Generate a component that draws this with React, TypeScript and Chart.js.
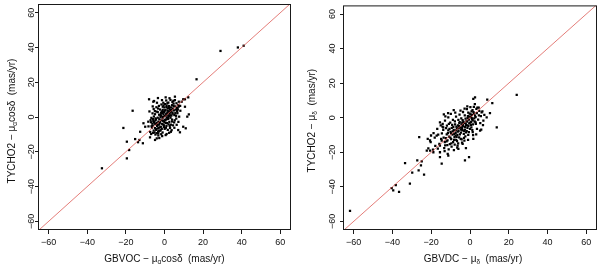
import React, { useEffect, useRef } from "react";
import { Chart, registerables } from "chart.js";

Chart.register(...registerables);

// ---------- data ----------
const axisMin = -65;
const axisMax = 65;
const tickValues = [-60, -40, -20, 0, 20, 40, 60];
const identityX = [-65, 65];
const identityY = [-65, 65];

// Left panel: GBVOC - mu_alpha cos delta (x) vs TYCHO2 - mu_alpha cos delta (y)
const leftX = [
  41, 38, 29, 16.6, -32.4, -16.5, -21.3, -19.5, -19.5, -18.3, -15.2, -13, -13.7, -10.9, -12.6, -8, -5.8, -0.6,
  -3.2, -7.5, -4, 1.1, 7.1, 9.7, 11.8, 10.6, 5.4, 8.9, 10.6, 12.3, 7.3, 6.6, -10, -8.4, -11.2, 12.6, 11, 9.7,
  -6.5, -6.1, -5.6, -5.3, -4.9, -4.8, -4.4, -4.3, -4.1, -3.8, -3.5, -3.4, -3.2, -2.9, -2.8, -2.5, -2.4, -2.1, -1.9, -1.8,
  -1.6, -1.4, -1.3, -1, -0.9, -0.8, -0.5, -0.3, -0.2, 0.1, 0.2, 0.5, 0.6, 0.9, 1.1, 1.2, 1.5, 1.6, 1.9, 2.1, 2.3, 2.4,
  2.7, 2.9, 3.1, 3.3, 3.5, 3.6, 3.9, 4.1, 4.3, 4.7, 4.9, 5.1, 5.6, 5.9, 6.2, 6.5, 7.1, 7.4, 8.1,
  -7, -6.8, -6.2, -5.5, -5, -4.2, -3.5, -2.9, -2.3, -1.6, -0.9, 0.3, 1.1, 2, -7.4, -6.9, -5.9, -4.7, -3.3, -2,
  -1, 0.1, 1, 2.1, 2.9, 3.9, 4.4, 5.3, 6, 6.7, 7.2, 8.2, 5.1, 3.3, 1.7, -0.3, 4.6, 3.1, 0.9, -1.3, -3.9, -4.6,
  -5.8, -3.2, 2.4, 6.3, -2.7, -4.9, 0.6, 8, -5.4,
  -6.3, -5.9, -5.1, -4.9, -4.4, -4.1, -3.7, -3.3, -2.9, -2.7, -2.2, -1.8, -1.4, -1.2, -0.7, -0.5, -0.1, 0.3, 0.7,
  0.9, 1.3, 1.5, 1.9, 2.3, 2.7, 3.1, 3.5, 3.9, 4.2, 4.7, 5, 5.6, 6.1, 6.9, -6.7, -5.4, -4.6, -3.9, -2.5, -1.7,
  -0.8, 0.5, 1.7, 2.5, 3.3, 4.1, 5.4, -3, -2, -1, 0, 1, 2, 3, -5.6, -6.1, -7.2, -8.3, -7.8, 6.4, 7.6, 3.7, -1.2,
  0.6, 2.6, -3.4,
];
const leftY = [
  41, 40, 38, 21.7, -29.5, 3.6, -6.3, -14.2, -23.8, -19, -12.7, -13.2, -14.5, -3.6, -8.5, 10.2, 8.8, 8.2,
  -9.4, -11.7, -12.3, -9.8, -7.5, -5.6, 0.2, 5.9, 11.7, 8.8, 10.2, 11.3, 5.9, 3.6, -5.6, -2.7, -15.1, 1.5, -6.5, 10.2,
  -6.1, -4.9, -7.8, -2.6, -6.4, -4.1, -1.2, -7.4, -3.5, -5.1, -0.4, -6.6, -2.7, -4.4, 1.3, -7.9, -2.9, -0.1, -5.6, 2.4,
  -1.9, 3.2, -3.9, -0.7, 4.1, -2.2, 1.6, -4.8, 2.8, 0.5, -1.6, 3.9, -3.4, 1.2, 5.7, -0.2, 2.4, 4.9, -1.1, 3.1, 0.6, 6.3,
  1.9, 4.2, -0.4, 5.5, 3.3, 0.9, 6.8, 2.5, 4.9, 7.7, 3.8, 1.1, 6.1, 4.3, 7.9, 5.2, 6.9, 8.8, 6.4,
  -3, -0.5, 2.1, 0.3, 3.4, 5.6, 2.8, 6.4, 4.3, 7.2, 5.9, 7.4, 6.6, 8.3, -8.6, -9.8, -9.1, -10.1, -8.4, -7.6,
  -8.9, -6.8, -5.1, -4.2, -6.3, -2.6, -4.8, -1.9, 0.7, 2.2, -2.8, 3.6, -6.2, -8.5, -7.4, -5.7, 9.3, 9.8, 9.5, 9.7, 8.2, -0.8,
  -2.3, -10.6, -9.1, -4.5, -12.1, -13.2, -10.4, -8.8, 9.2,
  -3.8, -1.2, -8.9, 1.6, -6.9, 3.1, -4.6, 4.9, -8.1, -1.3, -5.9, 0.7, -6.8, 2.2, -4.3, 6.7, -2.9, 3.8, -6.2,
  1.9, -3.5, 7.9, -0.6, 5.2, -5.1, 0.8, 4.1, -1.5, 1.9, 6.3, -3.1, 2.2, -0.9, 4.4, -5.3, -3.2, -1.9, -9.3, -3.6, -9.9,
  0.1, -1.8, 3.6, -2.8, -4.4, 8.6, 9.7, -6.2, 1.2, 2.9, 5.5, -1.3, 0.9, 2.9, 4.6, 6.1, -1.8, -5.4, 3.2, 3.3, 0.2, -7.6, -11,
  11.3, 10.8, 10.9,
];

// Right panel: GBVDC - mu_delta (x) vs TYCHO2 - mu_delta (y)
const rightX = [
  -61.9, -40.4, -38.3, -36.6, -39.6, -33.5, -29.8, -31, -27.2, -26.5, -24.9, -23.7, -26.2, -25.3, -22.3, -20.6,
  -18.9, -15.5, -15.5, -14.6, -11.2, -6, -2.6, -0.5, 1.7, 5.2, 6.9, 8.6, 10.3, 13.8, 11.5, 8.9, 2.6, 24.1,
  -15.5, -14.6, -20.6, -17.2, -13.8, -15.5, -12.9, -11.2, 2.9, 6, 3.8,
  -13, -12.5, -12, -11.6, -11.2, -10.8, -10.4, -10, -9.7, -9.4, -9, -8.7, -8.4, -8, -7.7, -7.4, -7.1, -6.8, -6.5,
  -6.2, -5.9, -5.6, -5.3, -5, -4.7, -4.4, -4.1, -3.8, -3.5, -3.2, -2.9, -2.6, -2.3, -2, -1.7, -1.4, -1.1, -0.8,
  -0.5, -0.2, 0.1, 0.4, 0.7, 1, 1.4, 1.8, 2.2, 2.6, 3, 3.5,
  -14.5, -13.8, -13.3, -12.8, -11.9, -11, -10.2, -9.5, -8.8, -7.9, -7.2, -6.1, -5.4, -4.3, -3.6, -2.4, -1.6, -0.6,
  0.2, 1.2, 2, -15.8, -14.9, -16.6, -17.9, -19.1, -18.2, -16.4, -14.1, -12.7, -9.9, -4.9, -2.8, 0.8, -6.6, -3.8,
  -1, 4.2, 4.8, 5.6, 3.6, 1.6, -2.1, -20.3, -21.5, -7.6, -11.5,
  -12.3, -11.7, -10.9, -10.1, -9.6, -9.2, -8.9, -8.2, -7.8, -7.5, -7, -6.7, -6.3, -6, -5.7, -5.2, -4.8, -4.5, -4.2,
  -3.9, -3.4, -3.1, -2.7, -2.5, -2.1, -1.8, -1.3, -0.9, -0.4, 0, 0.3, 0.6, 0.9, 1.3, 1.5, 2.1, 2.4, 2.9, 3.3, 4.6,
  5.3, 6.4, -13.6, -14.2, -12.1, -11.4, -10.6, -9.8, -8.6, -8.1, -7.3, -6.9, -5.9, -5.5, -4.6, -4, -3.7, -3, -2.2,
  -1.5, -1.2, -0.3, 0.5, 1.1, -16.9, -15.1, -13.1, -8.3, -6.4, -4.1, -2.9, -0.9, 1.4, 3.2, -18.8, -20.1, -21.8,
  -13.5, -11.3, -8.4, -1.4, 1.7, 2.5, 4.5, 6.7, 5.8, 7.4,
];
const rightY = [
  -53.9, -40.7, -39, -43, -42, -26.3, -31.8, -38.2, -24.7, -30.5, -25.3, -33, -11.3, -27.6, -19, -19,
  -20, -22.8, -20, -26.6, -21.9, -18, -24.7, -22.8, -12.3, -7.5, -1.7, 0.2, 2.7, -5.6, 8.4, 10.4, 11.7, 13.2,
  -16.1, -13.2, -13.2, -10.4, -5.6, -2.7, -1.7, 0.2, -2.7, 3.1, 5.9,
  -14.2, -11.8, -9.6, -13.1, -7.4, -10.9, -15.3, -8.2, -12.4, -5.9, -9.8, -14.1, -7.1, -11.2, -3.8, -8.8, -12.9, -6.2, -9.9,
  -4.4, -7.6, -11.4, -2.6, -5.8, -8.7, -3.9, -6.6, -1.4, -5, -9.3, -3, -6.9, -0.6, -4.1, -7.8, -2.2, 0.9, -4.8,
  -1.1, 2.4, -2.9, 0.3, -5.6, 1.7, -1.6, 3.2, -0.4, 1.2, -3.6, 2.6,
  -9.1, -7, -17.6, -16, -4.6, -18.4, -2.9, -16.8, -1.2, -15.6, 0.6, -14.8, 1.8, -12.6, 3.3, -10.8, 4.9, -8.4,
  6.1, -7.2, 6.3, -15.1, -12.2, -17.9, -16.3, -18.5, -11.6, -9.8, -3.6, 0.8, 2.2, 4.1, 5.2, 3.7, -17.3, -15.2,
  -12.9, -1.1, 3.9, 0.9, -6.4, -10.1, -17.6, -14.1, -17.8, 2.9, -20.9,
  -6.1, -15.9, -3.6, -11.6, -14.8, -4.2, -7.9, -12.8, -2.1, -10.4, -5.1, -13.6, -8.1, -1.3, -4.9, -9.6, -12.2, -0.4, -5.6,
  -7.3, -2.3, -11.7, 1.3, -5.3, -8.5, -1.9, -5.9, 2.9, -3.3, -6.4, 1.9, -2.4, -0.1, 4.4, -3.8, 2.3, -2.2, 0.4, 5.1, 1.4,
  -3.2, 3.7, -11.5, -5.1, -13.7, -8.9, -6.5, -9.1, -5.3, -9.4, -7.4, -11.1, -6.2, -3.1, -6.9, -2.8, -4.3, -7.6, -3.4,
  -4.4, -0.3, 0.6, -4.1, -0.9, -6.4, -4.4, -19.4, -18.8, -16.1, -14.4, -13.3, -9.9, -8.3, -9.6, -8.9, -10.3, -12.2,
  1.9, 2.6, 4.4, 6.6, 10.9, 7.8, 5.8, -4.3, -6.9, 1.6,
];

type Part = { t: string; sub?: boolean };
const leftXTitle: Part[] = [{ t: "GBVOC \u2212 \u03bc" }, { t: "\u03b1", sub: true }, { t: "cos\u03b4  (mas/yr)" }];
const leftYTitle: Part[] = [{ t: "TYCHO2 \u2212 \u03bc" }, { t: "\u03b1", sub: true }, { t: "cos\u03b4  (mas/yr)" }];
const rightXTitle: Part[] = [{ t: "GBVDC \u2212 \u03bc" }, { t: "\u03b4", sub: true }, { t: "  (mas/yr)" }];
const rightYTitle: Part[] = [{ t: "TYCHO2 \u2212 \u03bc" }, { t: "\u03b4", sub: true }, { t: "  (mas/yr)" }];

// ---------- drawing ----------
const FONT = '"Liberation Sans", Arial, Helvetica, sans-serif';
const FS = 9;
const TITLE_FS = 10;

function fmt(v: number): string {
  return v < 0 ? "\u2212" + Math.abs(v) : String(v);
}

function drawParts(ctx: CanvasRenderingContext2D, parts: Part[], cx: number, cy: number, size: number) {
  const widths = parts.map((p) => {
    ctx.font = `${p.sub ? size * 0.65 : size}px ${FONT}`;
    return ctx.measureText(p.t).width;
  });
  const total = widths.reduce((a, b) => a + b, 0);
  let x = cx - total / 2;
  ctx.textAlign = "left";
  ctx.textBaseline = "middle";
  parts.forEach((p, i) => {
    ctx.font = `${p.sub ? size * 0.65 : size}px ${FONT}`;
    ctx.fillText(p.t, x, cy + (p.sub ? size * 0.3 : 0));
    x += widths[i];
  });
}

const frameTitles = {
  id: "frameTitles",
  afterDraw(chart: any, _args: any, opts: any) {
    const { ctx, chartArea: a } = chart;
    ctx.save();
    ctx.strokeStyle = "#1a1a1a";
    ctx.lineWidth = 1;
    ctx.strokeRect(a.left - 0.5, a.top + 0.5, a.right - a.left + 1, a.bottom - a.top - 1);
    ctx.fillStyle = "#111";
    drawParts(ctx, opts.xTitle, (a.left + a.right) / 2 + opts.xShift, opts.xTitleY, TITLE_FS);
    ctx.translate(opts.yTitleX, (a.top + a.bottom) / 2 + opts.yShift);
    ctx.rotate(-Math.PI / 2);
    drawParts(ctx, opts.yTitle, 0, 0, TITLE_FS);
    ctx.restore();
  },
};

type PanelProps = {
  xs: number[];
  ys: number[];
  xTitle: Part[];
  yTitle: Part[];
  left: number;
  yAxisWidth: number;
  padRight: number;
  yTickPad: number;
  xShift: number;
  yShift: number;
};

function Panel(props: PanelProps) {
  const ref = useRef<HTMLCanvasElement | null>(null);
  useEffect(() => {
    if (!ref.current) return;
    const pts = props.xs.map((x, i) => ({ x, y: props.ys[i] }));
    const line = identityX.map((x, i) => ({ x, y: identityY[i] }));
    const setTicks = (s: any) => {
      s.ticks = tickValues.map((v) => ({ value: v }));
    };
    const grid = {
      display: true,
      drawOnChartArea: false,
      drawTicks: true,
      tickLength: 4,
      color: "#1a1a1a",
      lineWidth: 1,
    };
    const chart = new Chart(ref.current, {
      type: "scatter",
      data: {
        datasets: [
          {
            type: "line",
            data: line,
            borderColor: "#d9453f",
            borderWidth: 0.7,
            pointRadius: 0,
            fill: false,
          } as any,
          {
            data: pts,
            pointStyle: "rect",
            pointRadius: 1.6,
            pointBackgroundColor: "#000",
            pointBorderWidth: 0,
            borderWidth: 0,
          } as any,
        ],
      },
      options: {
        animation: false,
        responsive: true,
        maintainAspectRatio: false,
        events: [],
        layout: { padding: { left: 0, right: props.padRight, top: 4, bottom: 0 } },
        plugins: {
          legend: { display: false },
          tooltip: { enabled: false },
          frameTitles: {
            xTitle: props.xTitle,
            yTitle: props.yTitle,
            xTitleY: 259,
            yTitleX: 12,
            xShift: props.xShift,
            yShift: props.yShift,
          },
        } as any,
        scales: {
          x: {
            type: "linear",
            min: axisMin,
            max: axisMax,
            afterBuildTicks: setTicks,
            afterFit: (s: any) => {
              s.height = 39;
            },
            grid,
            border: { display: false },
            ticks: {
              font: { family: FONT, size: FS },
              color: "#111",
              padding: 3,
              maxRotation: 0,
              autoSkip: false,
              callback: (v: any) => fmt(Number(v)),
            },
          },
          y: {
            type: "linear",
            min: axisMin,
            max: axisMax,
            afterBuildTicks: setTicks,
            afterFit: (s: any) => {
              s.width = props.yAxisWidth;
            },
            grid,
            border: { display: false },
            ticks: {
              font: { family: FONT, size: FS },
              color: "#111",
              padding: props.yTickPad,
              minRotation: 90,
              maxRotation: 90,
              crossAlign: "center",
              autoSkip: false,
              callback: (v: any) => fmt(Number(v)),
            },
          },
        },
      },
      plugins: [frameTitles as any],
    });
    return () => chart.destroy();
  }, []);
  return (
    <div style={{ position: "absolute", left: props.left, top: 0, width: 300, height: 269 }}>
      <canvas ref={ref} />
    </div>
  );
}

export default function App() {
  return (
    <div style={{ position: "absolute", left: 0, top: 0, width: 600, height: 269, background: "#fff" }}>
      <Panel xs={leftX} ys={leftY} xTitle={leftXTitle} yTitle={leftYTitle} left={0} yAxisWidth={39} padRight={10} yTickPad={-4} xShift={0} yShift={4} />
      <Panel xs={rightX} ys={rightY} xTitle={rightXTitle} yTitle={rightYTitle} left={300} yAxisWidth={44} padRight={4} yTickPad={0} xShift={3} yShift={3} />
    </div>
  );
}
